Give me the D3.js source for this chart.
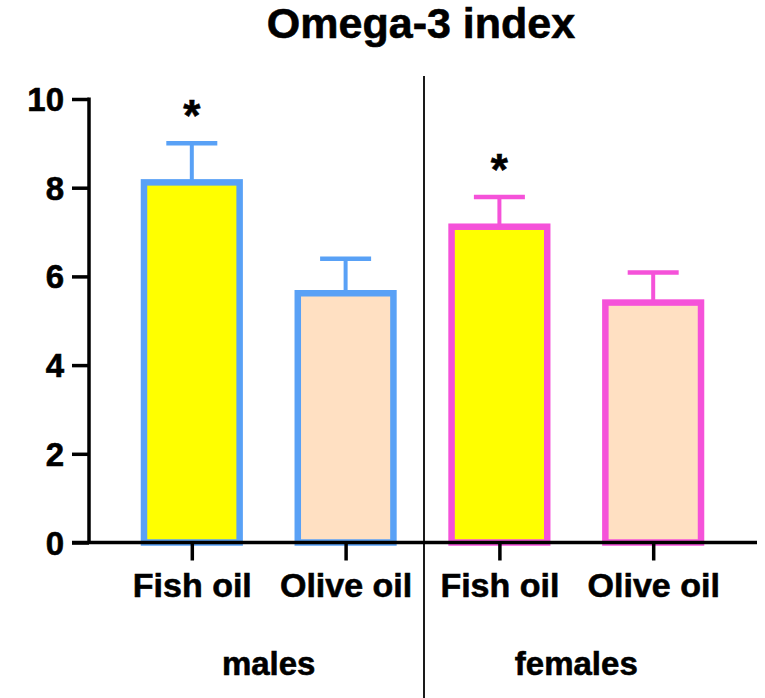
<!DOCTYPE html>
<html>
<head>
<meta charset="utf-8">
<script src="https://cdn.jsdelivr.net/npm/d3@7"></script>
<style>
  html, body { margin: 0; padding: 0; background: #fff; }
  svg { display: block; font-family: "Liberation Sans", Arial, Helvetica, sans-serif; font-weight: bold; }
  svg text { fill: #000; stroke: #000; stroke-width: 0.6px; }
</style>
</head>
<body>
<svg id="chart" width="765" height="698"></svg>
<script>
// Omega-3 index by diet and sex (mean with upper SEM bar)
const categories = ["m-fish", "m-olive", "f-fish", "f-olive"];
const treatments = ["Fish oil", "Olive oil", "Fish oil", "Olive oil"];
const groups = ["males", "males", "females", "females"];
const means = [8.12, 5.62, 7.12, 5.41];
const sems = [0.88, 0.78, 0.67, 0.68];
const significant = [true, false, true, false];
const yTicks = [0, 2, 4, 6, 8, 10];

const fillColors = ["#FFFF00", "#FFE0C2", "#FFFF00", "#FFE0C2"];
const strokeColors = ["#59A1F6", "#59A1F6", "#F552D9", "#F552D9"];

const svg = d3.select("#chart");

const x = d3.scalePoint()
  .domain(categories)
  .range([88, 757])
  .padding(0.675);

const y = d3.scaleLinear()
  .domain([0, 10])
  .range([542.5, 99]);

const step = x.step();
const barW = step * 0.622;
const capW = 51;

// Title
svg.append("text")
  .attr("x", 421)
  .attr("y", 38)
  .attr("text-anchor", "middle")
  .attr("font-size", 43)
  .text("Omega-3 index");

// Divider between males and females
const divX = (x("m-olive") + x("f-fish")) / 2 + 1.5;
svg.append("line")
  .attr("x1", divX).attr("x2", divX)
  .attr("y1", 76).attr("y2", 698)
  .attr("stroke", "#1a1a1a")
  .attr("stroke-width", 2);

const data = categories.map((c, i) => ({
  key: c, treatment: treatments[i], group: groups[i],
  mean: means[i], sem: sems[i], sig: significant[i],
  fill: fillColors[i], stroke: strokeColors[i]
}));

// Error bars (upper only)
const err = svg.append("g");
err.selectAll("line.stem")
  .data(data).join("line")
  .attr("class", "stem")
  .attr("x1", d => x(d.key)).attr("x2", d => x(d.key))
  .attr("y1", d => y(d.mean)).attr("y2", d => y(d.mean + d.sem))
  .attr("stroke", d => d.stroke)
  .attr("stroke-width", 4);
err.selectAll("line.cap")
  .data(data).join("line")
  .attr("class", "cap")
  .attr("x1", d => x(d.key) - capW / 2).attr("x2", d => x(d.key) + capW / 2)
  .attr("y1", d => y(d.mean + d.sem)).attr("y2", d => y(d.mean + d.sem))
  .attr("stroke", d => d.stroke)
  .attr("stroke-width", 4.5);

// Bars
svg.append("g").selectAll("rect")
  .data(data).join("rect")
  .attr("x", d => x(d.key) - barW / 2)
  .attr("y", d => y(d.mean))
  .attr("width", barW)
  .attr("height", d => y(0) - y(d.mean))
  .attr("fill", d => d.fill)
  .attr("stroke", d => d.stroke)
  .attr("stroke-width", 6.5);

// Significance markers
svg.append("g").selectAll("text")
  .data(data.filter(d => d.sig)).join("text")
  .attr("x", d => x(d.key))
  .attr("y", d => y(d.mean + d.sem) - 12)
  .attr("text-anchor", "middle")
  .attr("font-size", 44)
  .text("*");

// Y axis
const yAxis = svg.append("g")
  .attr("transform", "translate(89,0)")
  .call(d3.axisLeft(y).tickValues(yTicks).tickSize(17).tickPadding(8).tickSizeOuter(0));
yAxis.select(".domain").attr("stroke", "#000").attr("stroke-width", 3.5)
  .attr("d", `M0,${y(10) - 1.5}V${y(0)}`);
yAxis.selectAll(".tick line").attr("stroke", "#000").attr("stroke-width", 3.5);
yAxis.selectAll(".tick text")
  .attr("font-size", 33)
  .attr("font-family", "'Liberation Sans', Arial, sans-serif")
  .attr("font-weight", "bold")
  .attr("dy", "0.35em");

// X axis
const xAxis = svg.append("g")
  .attr("transform", `translate(0,${y(0)})`)
  .call(d3.axisBottom(x).tickSize(18).tickPadding(12).tickSizeOuter(0)
    .tickFormat((d, i) => treatments[i]));
xAxis.select(".domain").attr("stroke", "#000").attr("stroke-width", 3.5)
  .attr("d", "M72,0H757");
xAxis.selectAll(".tick line").attr("stroke", "#000").attr("stroke-width", 3.5);
xAxis.selectAll(".tick text")
  .attr("font-size", 34)
  .attr("font-family", "'Liberation Sans', Arial, sans-serif")
  .attr("font-weight", "bold")
  .attr("dy", "0.71em");

// Group labels
const groupNames = Array.from(new Set(groups));
svg.append("g").selectAll("text")
  .data(groupNames).join("text")
  .attr("x", g => d3.mean(data.filter(d => d.group === g), d => x(d.key)))
  .attr("y", 675)
  .attr("text-anchor", "middle")
  .attr("font-size", 33)
  .text(g => g);
</script>
</body>
</html>
